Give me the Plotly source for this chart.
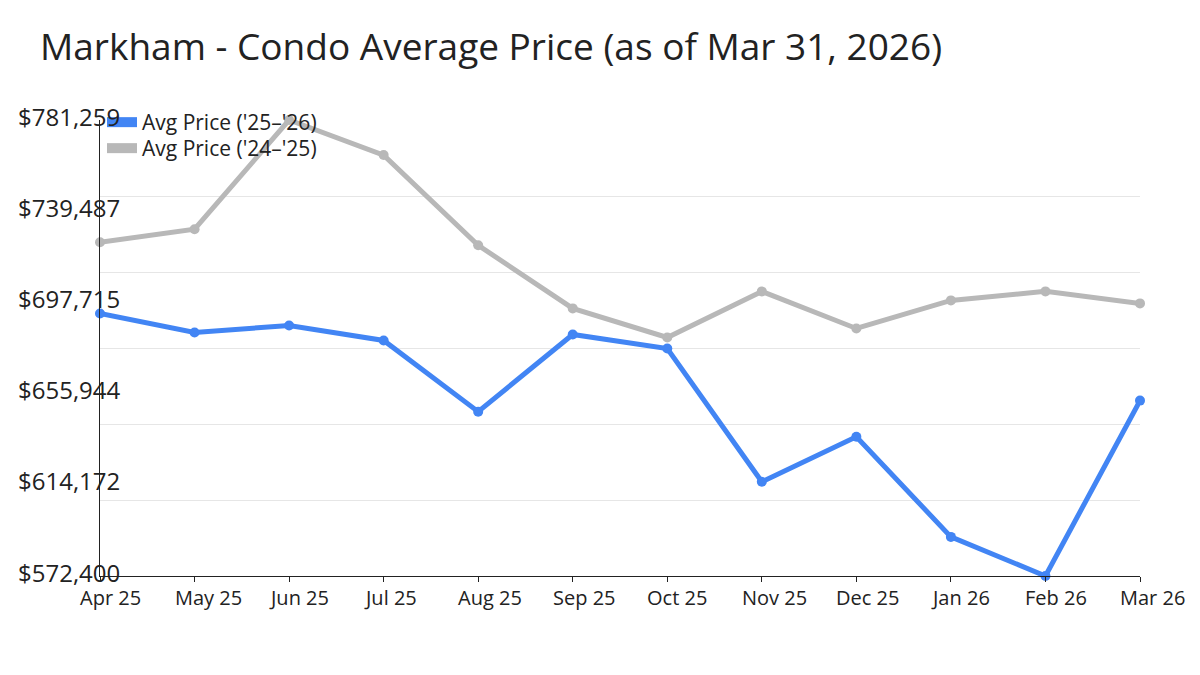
import plotly.graph_objects as go

months = ["Apr 25", "May 25", "Jun 25", "Jul 25", "Aug 25", "Sep 25",
          "Oct 25", "Nov 25", "Dec 25", "Jan 26", "Feb 26", "Mar 26"]
price_25_26 = [692666, 683944, 687158, 680272, 647681, 683026,
               676600, 615549, 636205, 590302, 572400, 652730]
price_24_25 = [725257, 731224, 781259, 765193, 723880, 694961,
               681649, 702765, 685780, 698633, 702765, 697256]
y_tick_vals = [572400, 614172, 655944, 697715, 739487, 781259]
y_tick_text = ["$572,400", "$614,172", "$655,944", "$697,715", "$739,487", "$781,259"]
y_min, y_max = 572400, 781259
n_grid = 6
grid_vals = [y_min + (y_max - y_min) * i / n_grid for i in range(n_grid + 1)]

BLUE = "#4285F4"
GRAY = "#B8B8B8"
FONT = "Open Sans"
TXT = "#222222"

ML, MR, MT, MB = 92, 68, 112, 107
PW = 1200 - ML - MR
PH = 675 - MT - MB

fig = go.Figure()
fig.add_trace(go.Scatter(x=months, y=price_24_25, mode="lines+markers",
                         line=dict(color=GRAY, width=5), marker=dict(color=GRAY, size=10),
                         showlegend=False, cliponaxis=False))
fig.add_trace(go.Scatter(x=months, y=price_25_26, mode="lines+markers",
                         line=dict(color=BLUE, width=5), marker=dict(color=BLUE, size=10),
                         showlegend=False, cliponaxis=False))
# legend entries
fig.add_trace(go.Scatter(x=[None], y=[None], mode="lines", name="Avg Price ('25–'26)",
                         line=dict(color=BLUE, width=11), legend="legend"))
fig.add_trace(go.Scatter(x=[None], y=[None], mode="lines", name="Avg Price ('24–'25)",
                         line=dict(color=GRAY, width=11), legend="legend2"))

# y-axis labels (left aligned)
for v, t in zip(y_tick_vals, y_tick_text):
    fig.add_annotation(x=(8 - ML) / PW, xref="paper", y=v, yref="y", text=t,
                       showarrow=False, xanchor="left", yanchor="middle", yshift=4,
                       font=dict(family=FONT, size=24, color=TXT))

# x-axis labels (left aligned, starting 20px before each tick)
for m in months:
    fig.add_annotation(x=m, xref="x", y=0, yref="paper", text=m,
                       showarrow=False, xanchor="left", yanchor="middle",
                       xshift=-22, yshift=-21,
                       font=dict(family=FONT, size=20, color=TXT))

leg_common = dict(xanchor="left", yanchor="top", bgcolor="rgba(0,0,0,0)",
                  font=dict(family=FONT, size=21, color=TXT), itemwidth=30)

fig.update_layout(
    width=1200, height=675,
    margin=dict(l=ML, r=MR, t=MT, b=MB),
    paper_bgcolor="white", plot_bgcolor="white",
    title=dict(text="Markham - Condo Average Price (as of Mar 31, 2026)",
               x=32 / 1200, xanchor="left", y=1 - 39 / 675, yanchor="middle",
               font=dict(family=FONT, size=37, color=TXT)),
    legend=dict(x=2 / PW, y=1 + 18 / PH, **leg_common),
    legend2=dict(x=2 / PW, y=1 - 8 / PH, **leg_common),
    xaxis=dict(type="category", range=[0, len(months) - 1], showline=True,
               linecolor="#222", linewidth=1, ticks="outside", ticklen=5,
               tickcolor="#222", showgrid=False, showticklabels=False),
    yaxis=dict(range=[y_min, y_max], showline=True, linecolor="#222", linewidth=1,
               tickvals=y_tick_vals, showticklabels=False, ticks="", showgrid=False,
               zeroline=False,
               minor=dict(tickvals=grid_vals, showgrid=True, gridcolor="#E6E6E6",
                          gridwidth=1, ticks="")),
)

fig.write_html("out.html")
